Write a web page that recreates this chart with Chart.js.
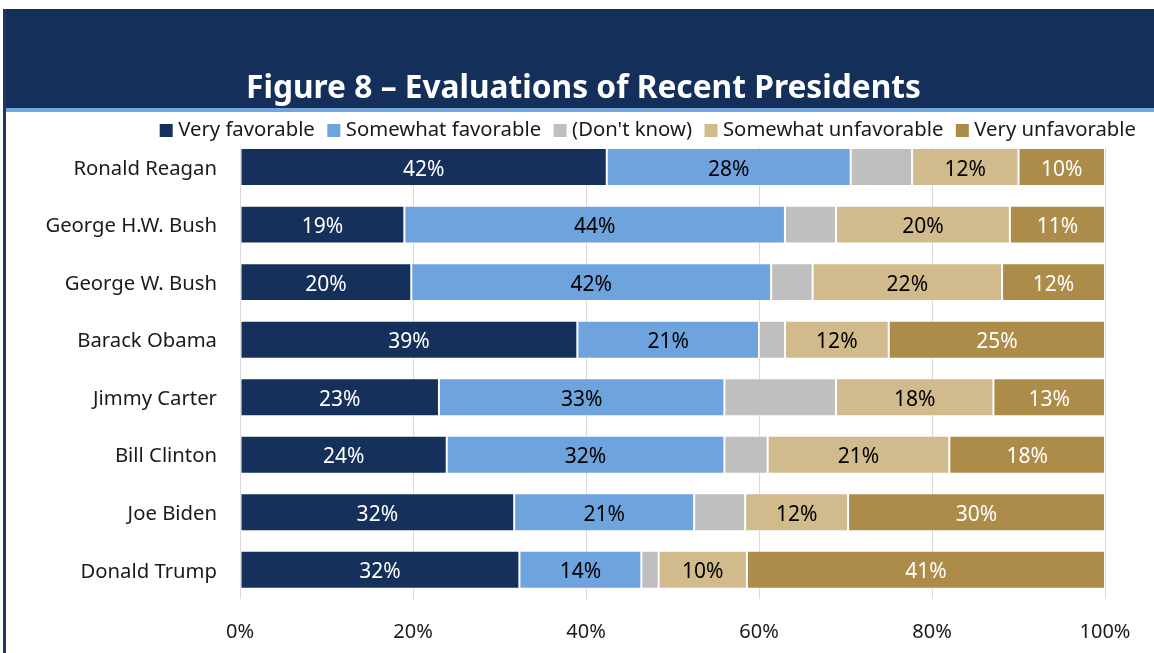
<!DOCTYPE html>
<html><head><meta charset="utf-8">
<script src="https://cdn.jsdelivr.net/npm/chart.js@4.4.1/dist/chart.umd.min.js"></script>
<style>html,body{margin:0;padding:0;background:#fff;overflow:hidden}#wrap{position:relative;width:1154px;height:653px}</style>
</head><body><div id="wrap"><canvas id="c" width="1154" height="653"></canvas></div>
<script>
const titleText = 'Figure 8 \u2013 Evaluations of Recent Presidents';
const categories = ['Ronald Reagan','George H.W. Bush','George W. Bush','Barack Obama','Jimmy Carter','Bill Clinton','Joe Biden','Donald Trump'];
const seriesNames = ['Very favorable','Somewhat favorable',"(Don't know)",'Somewhat unfavorable','Very unfavorable'];
const veryFavorable = [42.4, 19.0, 19.8, 39.0, 23.0, 23.9, 31.7, 32.3];
const somewhatFavorable = [28.2, 44.0, 41.6, 21.0, 33.0, 32.1, 20.8, 14.1];
const dontKnow = [7.1, 5.9, 4.8, 3.0, 12.9, 5.0, 5.9, 2.0];
const somewhatUnfavorable = [12.3, 20.1, 21.9, 12.0, 18.2, 21.0, 11.9, 10.2];
const veryUnfavorable = [10.0, 11.0, 11.9, 25.0, 12.9, 18.0, 29.7, 41.4];
const tickLabels = ['0%','20%','40%','60%','80%','100%'];

const seriesValues = [veryFavorable, somewhatFavorable, dontKnow, somewhatUnfavorable, veryUnfavorable];
const seriesColors = ['#15305a','#6fa3de','#bfbfbf','#d1bb8d','#ad8b49'];
const labelColors = ['#ffffff','#000000',null,'#000000','#ffffff'];
const FONT = "'Noto Sans', sans-serif";

const headerPlugin = {
  id: 'header',
  beforeDraw(chart) {
    const ctx = chart.ctx;
    ctx.save();
    ctx.fillStyle = '#ffffff';
    ctx.fillRect(0, 0, chart.width, chart.height);
    ctx.fillStyle = '#14305a';
    ctx.fillRect(3, 9, chart.width - 3, 99);
    ctx.fillStyle = '#74a6de';
    ctx.fillRect(3, 108, chart.width - 3, 4);
    ctx.fillStyle = '#1c3860';
    ctx.fillRect(3, 9, 3, chart.height - 9);
    ctx.restore();
  }
};

const legendPlugin = {
  id: 'customLegend',
  beforeDatasetsDraw(chart) {
    const ctx = chart.ctx;
    ctx.save();
    ctx.fillStyle = '#ffffff';
    ctx.fillRect(120, 113, 1030, 34.5);
    ctx.font = "20.3px " + FONT;
    ctx.textBaseline = 'middle';
    ctx.textAlign = 'left';
    const ds = chart.data.datasets;
    let right = 1136;
    const box = 13, gapBox = 5.5, gapItem = 12.5, cy = 130.5;
    for (let i = ds.length - 1; i >= 0; i--) {
      const w = ctx.measureText(ds[i].label).width;
      const tx = right - w;
      ctx.fillStyle = '#1a1a1a';
      ctx.fillText(ds[i].label, tx, cy);
      const bx = tx - gapBox - box;
      ctx.fillStyle = ds[i].backgroundColor;
      ctx.fillRect(bx, cy - 6.5, box, box);
      right = bx - gapItem;
    }
    ctx.restore();
  }
};

const valueLabelPlugin = {
  id: 'valueLabels',
  afterDatasetsDraw(chart) {
    const ctx = chart.ctx;
    ctx.save();
    ctx.font = "21px " + FONT;
    ctx.textAlign = 'center';
    ctx.textBaseline = 'middle';
    chart.data.datasets.forEach((d, i) => {
      if (!labelColors[i]) return;
      const meta = chart.getDatasetMeta(i);
      ctx.fillStyle = labelColors[i];
      meta.data.forEach((bar, j) => {
        const p = bar.getProps(['x', 'y', 'base'], true);
        ctx.fillText(Math.round(d.data[j]) + '%', (p.x + p.base) / 2, p.y + 2.5);
      });
    });
    ctx.restore();
  }
};

new Chart(document.getElementById('c'), {
  type: 'bar',
  data: {
    labels: categories,
    datasets: seriesNames.map((n, i) => ({
      label: n,
      data: seriesValues[i],
      backgroundColor: seriesColors[i],
      borderColor: 'rgba(255,255,255,0.55)',
      borderWidth: 1,
      borderSkipped: false,
      barPercentage: 0.66,
      categoryPercentage: 1.0
    }))
  },
  options: {
    indexAxis: 'y',
    responsive: false,
    animation: false,
    devicePixelRatio: 1,
    layout: { padding: { left: 13, right: 0, top: 0, bottom: 0 } },
    plugins: {
      legend: { display: false },
      tooltip: { enabled: false },
      title: {
        display: true,
        text: titleText,
        color: '#ffffff',
        font: { family: FONT, size: 31.7, weight: 'bold', lineHeight: 1.2 },
        padding: { top: 70, bottom: 30.3 }
      }
    },
    scales: {
      x: {
        stacked: true,
        min: 0, max: 100,
        ticks: {
          stepSize: 20,
          padding: 22,
          color: '#1a1a1a',
          font: { family: FONT, size: 20 },
          callback: (v, i) => tickLabels[i]
        },
        grid: { color: '#d9d9d9', lineWidth: 1, drawTicks: false },
        border: { display: false },
        afterFit: (s) => { s.height = 54.5; }
      },
      y: {
        stacked: true,
        ticks: { padding: 23, labelOffset: 2, color: '#1a1a1a', font: { family: FONT, size: 20.3 } },
        grid: { display: false, drawTicks: false },
        border: { display: false },
        afterFit: (s) => { s.width = 227; }
      },
      yRight: {
        type: 'category',
        position: 'right',
        labels: categories,
        ticks: { display: false },
        grid: { display: false, drawTicks: false },
        border: { display: false },
        afterFit: (s) => { s.width = 49; }
      }
    }
  },
  plugins: [headerPlugin, legendPlugin, valueLabelPlugin]
});
</script></body></html>
